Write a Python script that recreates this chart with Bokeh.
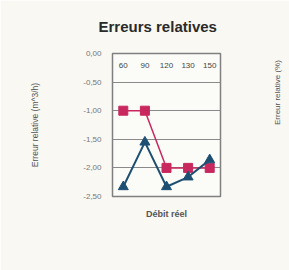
import math
from bokeh.plotting import figure
from bokeh.models import (FactorRange, Range1d, FixedTicker, CustomJSTickFormatter,
                          Legend, LegendItem, Title, LinearAxis)
from bokeh.embed import file_html
from bokeh.resources import INLINE

categories = ["60", "90", "120", "130", "150"]
err_m3h = [-1.0, -1.0, -2.0, -2.0, -2.0]
err_pct = [-2.33, -1.55, -2.33, -2.16, -1.86]
y_ticks = [0.0, -0.5, -1.0, -1.5, -2.0, -2.5]
series_names = ["Erreur relative m^3/h", "Erreur relative %"]

BG = "#f9f8f3"
PINK = "#c8285e"
BLUE = "#1d4f73"
FONT = "Liberation Sans"

p = figure(frame_width=108, frame_height=143, output_backend="svg", toolbar_location=None,
           x_range=FactorRange(*categories), y_range=Range1d(-2.5, 0),
           x_axis_location="above",
           min_border_left=112, min_border_right=69, min_border_top=53,
           min_border_bottom=74)
p.background_fill_color = "#fbfbf8"
p.border_fill_color = BG
p.outline_line_color = "#808080"
p.outline_line_width = 1.5

p.title.text = "Erreurs relatives"
p.title.align = "left"
p.title.vertical_align = "top"
p.title.offset = -14
p.title.standoff = 34
p.title.text_font = FONT
p.title.text_font_size = "15px"
p.title.text_font_style = "bold"
p.title.text_color = "#2a2a2a"

p.xgrid.grid_line_color = None
p.ygrid.grid_line_color = "#8a8a8a"
p.ygrid.grid_line_width = 1

xa = p.xaxis[0]
xa.axis_line_color = None
xa.major_tick_line_color = None
xa.minor_tick_line_color = None
xa.major_label_standoff = -20
xa.major_label_text_font = FONT
xa.major_label_text_font_size = "8px"
xa.major_label_text_color = "#444444"

ya = p.yaxis[0]
ya.ticker = FixedTicker(ticks=y_ticks)
ya.formatter = CustomJSTickFormatter(code="return tick.toFixed(2).replace('.', ',');")
ya.axis_line_color = None
ya.major_tick_line_color = None
ya.minor_tick_line_color = None
ya.major_label_standoff = 5
ya.major_label_text_font = FONT
ya.major_label_text_font_size = "8px"
ya.major_label_text_color = "#777777"
ya.axis_label = "Erreur relative (m^3/h)"
ya.axis_label_text_font = FONT
ya.axis_label_text_font_size = "8.5px"
ya.axis_label_text_font_style = "normal"
ya.axis_label_text_color = "#555555"
ya.axis_label_standoff = 40

# right-hand label (neighbouring chart's axis title)
ra = LinearAxis(ticker=FixedTicker(ticks=[]), axis_line_color=None,
                major_tick_line_color=None, minor_tick_line_color=None,
                bounds=(-2.36, 0.0),
                axis_label="Erreur relative (%)", axis_label_text_font=FONT,
                axis_label_text_font_size="8px", axis_label_text_font_style="normal",
                axis_label_text_color="#555555", axis_label_standoff=57)
if "axis_label_orientation" in LinearAxis.properties():
    ra.axis_label_orientation = math.pi / 2
p.add_layout(ra, "right")

p.add_layout(Title(text="Débit réel", align="center", text_font=FONT,
                   text_font_size="9px", text_font_style="bold",
                   text_color="#555555", standoff=20), "below")

l1 = p.line(categories, err_m3h, line_color=PINK, line_width=1.5)
p.scatter(categories, err_m3h, marker="square", size=9,
          fill_color=PINK, line_color=PINK)
l2 = p.line(categories, err_pct, line_color=BLUE, line_width=2)
p.scatter(categories, err_pct, marker="triangle", size=10,
          fill_color=BLUE, line_color=BLUE)

legend = Legend(items=[LegendItem(label=series_names[0], renderers=[l1]),
                       LegendItem(label=series_names[1], renderers=[l2])],
                orientation="horizontal", location=(-79, -5), margin=0,
                label_text_font=FONT, label_text_font_size="7px",
                label_text_color="#555555", glyph_width=58, glyph_height=12,
                label_standoff=3, spacing=5, padding=6,
                border_line_color="#777777", background_fill_color="#ffffff",
                background_fill_alpha=1.0)
p.add_layout(legend, "below")

open("out.html", "w").write(file_html(p, INLINE))
